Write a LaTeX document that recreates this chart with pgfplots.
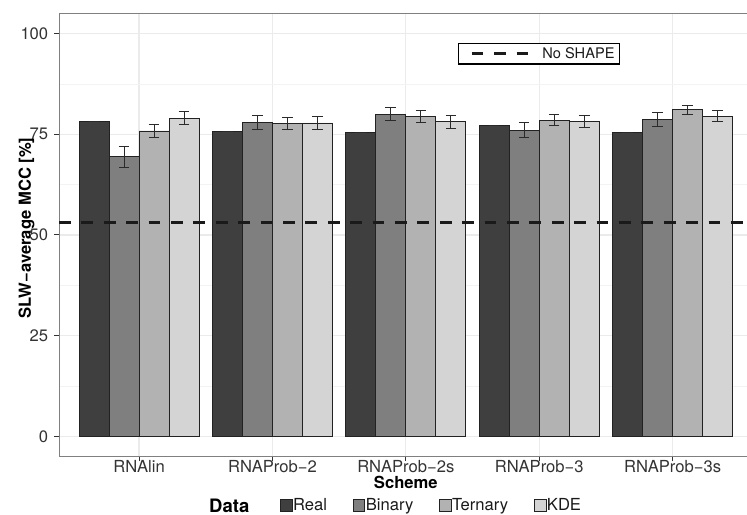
\documentclass[border=0pt]{standalone}
\usepackage{fontspec}
\setmainfont{TeX Gyre Heros}
\usepackage{pgfplots}
\pgfplotsset{compat=1.18}
\usepackage{pgfplotstable}
\definecolor{cReal}{HTML}{3F3F3F}
\definecolor{cBin}{HTML}{7F7F7F}
\definecolor{cTer}{HTML}{B2B2B2}
\definecolor{cKDE}{HTML}{D4D4D4}
\definecolor{cEdge}{HTML}{222222}
\definecolor{cErr}{HTML}{2A2A2A}
\definecolor{cGrid}{HTML}{EBEBEB}
\definecolor{cMinor}{HTML}{F3F3F3}
\definecolor{cFrame}{HTML}{808080}
\definecolor{cTick}{HTML}{333333}
\definecolor{cText}{HTML}{1A1A1A}

\pgfplotstableread{
x y e
0.6625 78.1 0
1.6625 75.7 0
2.6625 75.4 0
3.6625 77.1 0
4.6625 75.4 0
}\real
\pgfplotstableread{
x y e
0.8875 69.4 2.6
1.8875 77.9 1.7
2.8875 80.0 1.6
3.8875 76.0 1.8
4.8875 78.6 1.7
}\binary
\pgfplotstableread{
x y e
1.1125 75.8 1.7
2.1125 77.6 1.5
3.1125 79.4 1.4
4.1125 78.5 1.35
5.1125 81.1 1.1
}\ternary
\pgfplotstableread{
x y e
1.3375 79.0 1.6
2.3375 77.8 1.6
3.3375 78.1 1.6
4.3375 78.1 1.45
5.3375 79.5 1.3
}\kde

\newcommand{\fs}{\fontsize{16.6bp}{19bp}\selectfont}

\begin{document}
\begin{tikzpicture}
\useasboundingbox (0,0) rectangle (747bp,515bp);
\begin{axis}[
  at={(59bp,58.3bp)}, anchor=south west,
  scale only axis, width=693.6bp, height=443.4bp,
  xmin=0.4, xmax=5.6, ymin=-5, ymax=105,
  xtick={1,2,3,4,5},
  xticklabels={RNAlin,RNAProb−2,RNAProb−2s,RNAProb−3,RNAProb−3s},
  ytick={0,25,50,75,100},
  minor ytick={12.5,37.5,62.5,87.5},
  minor tick length=0pt,
  grid=both,
  major grid style={color=cGrid, line width=1.1bp},
  minor grid style={color=cMinor, line width=0.6bp},
  tick pos=left, tick align=outside,
  major tick length=4.6bp,
  tick style={color=cTick, line width=1bp},
  axis line style={color=cFrame, line width=1bp},
  /pgf/number format/assume math mode=true,
  tick label style={font=\fs, color=cTick, inner sep=0pt},
  xticklabel style={font=\fs, anchor=base, yshift=-11bp},
  yticklabel style={font=\fs, anchor=east, xshift=-6bp},
  xlabel={\bfseries Scheme},
  xlabel style={font=\fs, color=black, at={(axis description cs:0.5,0)}, anchor=base, yshift=-31.6bp, inner sep=0pt},
  ylabel={\bfseries SLW−average MCC [\%]},
  ylabel style={font=\fs, color=black, at={(axis description cs:-0.0469,0.516)}, anchor=center, inner sep=0pt},
  bar width=0.225, bar shift=0pt,
  legend columns=-1,
  legend image code/.code={\draw[#1, line width=0.8bp] (0bp,-5.85bp) rectangle (11.7bp,5.85bp); \path[draw=none,fill=none] (12.7bp,0bp);},
  legend style={at={(axis description cs:0.3186,-0.110)}, anchor=west, draw=none, fill=none,
    inner sep=0pt, outer sep=0pt, font=\fs, text=cText,
    nodes={inner sep=0pt},
    /tikz/every even column/.append style={column sep=25.7bp}},
  error bars/y dir=both, error bars/y explicit,
  error bars/error bar style={line width=1bp, color=cErr},
  error bars/error mark options={rotate=90, line width=1bp, color=cErr, mark size=5.3bp},
]
\addplot[ybar, fill=cReal, draw=cEdge, line width=0.8bp] table[x=x, y=y, y error=e] {\real};
\addplot[ybar, fill=cBin, draw=cEdge, line width=0.8bp] table[x=x, y=y, y error=e] {\binary};
\addplot[ybar, fill=cTer, draw=cEdge, line width=0.8bp] table[x=x, y=y, y error=e] {\ternary};
\addplot[ybar, fill=cKDE, draw=cEdge, line width=0.8bp] table[x=x, y=y, y error=e] {\kde};
\legend{Real,Binary,Ternary,KDE}
\end{axis}
\begin{axis}[
  at={(59bp,58.3bp)}, anchor=south west,
  scale only axis, width=693.6bp, height=443.4bp,
  xmin=0.4, xmax=5.6, ymin=-5, ymax=105,
  hide axis,
  legend image code/.code={\path[draw=none,fill=none] (0bp,-10.35bp) rectangle (84bp,10.35bp); \draw[#1] (13.4bp,0bp) -- (70bp,0bp);},
  legend style={at={(axis description cs:0.5757,0.9323)}, anchor=north west, draw=black, line width=1.4bp, fill=white,
    inner sep=0pt, outer sep=0pt, font=\fontsize{14.6bp}{17bp}\selectfont, text=cText,
    nodes={inner sep=0pt}},
]
\addplot[color=cText, line width=3bp, dash pattern=on 11.7bp off 10.7bp] coordinates {(0.4,53.2) (5.6,53.2)};
\legend{No SHAPE\rule{5bp}{0pt}}
\end{axis}
\node[anchor=base west, inner sep=0pt, font=\fontsize{18.5bp}{21bp}\selectfont\bfseries] at (209bp,3bp) {Data};
\end{tikzpicture}
\end{document}
